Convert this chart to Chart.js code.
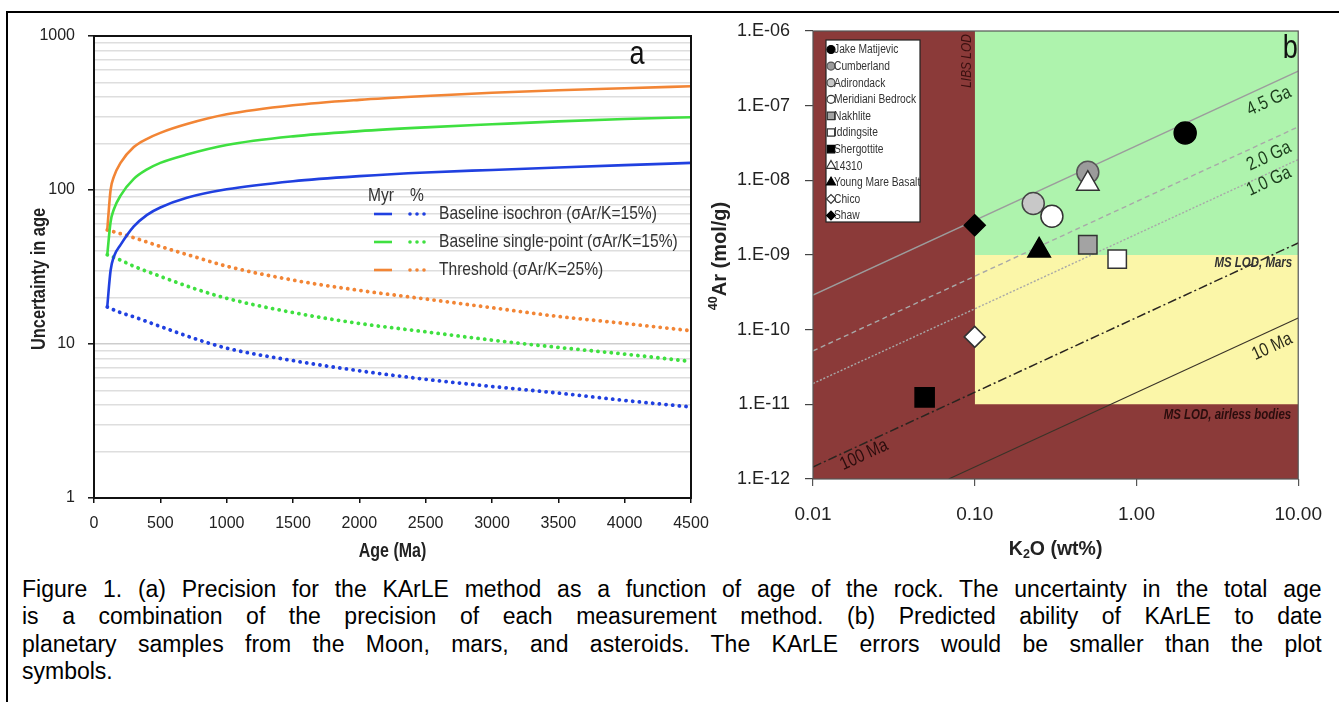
<!DOCTYPE html>
<html>
<head>
<meta charset="utf-8">
<script src="https://cdn.jsdelivr.net/npm/chart.js@4.4.1/dist/chart.umd.min.js"></script>
<style>
  body { margin: 0; width: 1339px; height: 702px; background: #fff; position: relative; overflow: hidden; font-family: 'Liberation Sans', Arial, sans-serif; }
  #frame { position: absolute; left: 6px; top: 11px; width: 1400px; height: 800px; border-left: 2px solid #000; border-top: 2px solid #000; }
  #cA { position: absolute; left: 0; top: 0; }
  #cB { position: absolute; left: 690px; top: 0; }
  #caption { position: absolute; left: 22px; top: 576px; width: 1300px; line-height: 27.3px; color: #000; }
  #caption div { white-space: nowrap; }
</style>
</head>
<body>
<div id="frame"></div>
<canvas id="cA" width="720" height="570"></canvas>
<canvas id="cB" width="649" height="570"></canvas>
<div id="caption"></div>
<script>
// ---------- panel a data ----------
const ageTicks = [0, 500, 1000, 1500, 2000, 2500, 3000, 3500, 4000, 4500];
const uncertaintyMajor = [1, 10, 100, 1000];

const ageMyr = [100, 125, 150, 200, 300, 400, 500, 700, 1000, 1500, 2000, 2500, 3000, 3500, 4000, 4500];
const isochronMyr = [17.5, 30, 37, 44, 58, 69, 77, 89, 101, 114, 123, 130, 135, 140, 145, 150];
const singlePointMyr = [38, 62, 75, 92, 118, 136, 150, 170, 196, 223, 241, 255, 267, 279, 289, 297];
const thresholdMyr = [55, 100, 122, 150, 190, 215, 235, 268, 310, 355, 385, 408, 428, 444, 458, 472];

const agePct = [100, 200, 300, 500, 750, 1000, 1500, 2000, 2500, 3000, 3500, 4000, 4500];
const isochronPct = [17.4, 16, 15, 13, 10.9, 9.4, 7.8, 6.7, 5.9, 5.3, 4.8, 4.3, 3.9];
const singlePointPct = [38, 35, 32, 27.5, 23, 19.8, 16, 13.6, 12, 10.6, 9.5, 8.6, 7.7];
const thresholdPct = [55, 52, 49, 43, 37, 32, 26, 22.3, 19.6, 17.2, 15.1, 13.6, 12.2];

const seriesNames = ['Baseline isochron (σAr/K=15%)', 'Baseline single-point (σAr/K=15%)', 'Threshold (σAr/K=25%)'];

// ---------- panel b data ----------
const k2oTicks = [0.01, 0.1, 1, 10];
const arTicks = [1e-12, 1e-11, 1e-10, 1e-9, 1e-8, 1e-7, 1e-6];

const sampleNames = ['Jake Matijevic', 'Cumberland', 'Adirondack', 'Meridiani Bedrock', 'Nakhlite', 'Iddingsite',
  'Shergottite', '14310', 'Young Mare Basalt', 'Chico', 'Shaw'];
const sampleK2O = [2.0, 0.5, 0.23, 0.3, 0.5, 0.76, 0.049, 0.5, 0.25, 0.1, 0.1];
const sampleAr40 = [4.3e-8, 1.28e-8, 4.9e-9, 3.3e-9, 1.37e-9, 8.8e-10, 1.24e-11, 9.0e-9, 1.15e-9, 8e-11, 2.5e-9];

// isochron end points [K2O, 40Ar]
const iso45Ga = [[0.01, 2.9e-10], [10, 2.9e-7]];
const iso20Ga = [[0.01, 5.2e-11], [10, 5.2e-8]];
const iso10Ga = [[0.01, 1.9e-11], [10, 1.9e-8]];
const iso100Ma = [[0.01, 1.45e-12], [10, 1.45e-9]];
const iso10Ma = [[0.069, 1e-12], [10, 1.43e-10]];

// detection limits
const libsLodK2O = 0.1;
const msLodMars = 1e-9;
const msLodAirless = 1e-11;

const captionLines = [
  'Figure 1. (a) Precision for the KArLE method as a function of age of the rock. The uncertainty in the total age',
  'is a combination of the precision of each measurement method. (b) Predicted ability of KArLE to date',
  'planetary samples from the Moon, mars, and asteroids. The KArLE errors would be smaller than the plot',
  'symbols.'
];

// ---------- fonts ----------
function hasFont(name) {
  const c = document.createElement('canvas').getContext('2d');
  c.font = '40px monospace';
  const a = c.measureText('abcdefghijklmnopqrstuvwxyz0123').width;
  c.font = '40px "' + name + '", monospace';
  const b = c.measureText('abcdefghijklmnopqrstuvwxyz0123').width;
  return a !== b;
}
const NARROW = hasFont('Liberation Sans Narrow');
const RF = "'Liberation Sans', Arial, sans-serif";
const NFAM = NARROW ? "'Liberation Sans Narrow', 'Liberation Sans', sans-serif" : RF;
const NSX = NARROW ? 1 : 0.82;

// narrow looking text: squeeze regular Liberation Sans horizontally when no narrow face exists
function ntext(ctx, t, x, y, size, style, align, rot) {
  ctx.save();
  ctx.translate(x, y);
  if (rot) ctx.rotate(rot);
  ctx.scale(NSX, 1);
  ctx.font = (style || '') + ' ' + size + 'px ' + NFAM;
  ctx.textAlign = align || 'left';
  ctx.textBaseline = 'middle';
  ctx.fillText(t, 0, 0);
  ctx.restore();
}
function rfont(size, style) { return (style || '') + ' ' + size + 'px ' + RF; }

Chart.defaults.font.family = RF;
Chart.defaults.animation = false;

const pair = (xs, ys) => xs.map((x, i) => ({ x: x, y: ys[i] }));
const pts = arr => arr.map(p => ({ x: p[0], y: p[1] }));

// ---------- caption: justify each printed line ----------
(function () {
  const cap = document.getElementById('caption');
  const mc = document.createElement('canvas').getContext('2d');
  mc.font = '20px ' + RF;
  const W = 1300;
  let fs = Math.min.apply(null, captionLines.slice(0, 3).map(t => 20 * (W - 4) / mc.measureText(t).width));
  fs = Math.min(fs, 23);
  cap.style.fontSize = fs.toFixed(2) + 'px';
  mc.font = fs.toFixed(2) + 'px ' + RF;
  captionLines.forEach((t, i) => {
    const d = document.createElement('div');
    d.textContent = t;
    if (i < captionLines.length - 1) {
      const spaces = t.split(' ').length - 1;
      d.style.wordSpacing = ((W - mc.measureText(t).width) / spaces).toFixed(3) + 'px';
    }
    cap.appendChild(d);
  });
})();

// ---------- panel a ----------
const BLUE = '#2040e0', GREEN = '#3fe040', ORANGE = '#f28535';

function solid(label, xs, ys, color) {
  return { label: label, data: pair(xs, ys), borderColor: color, borderWidth: 2.6, pointRadius: 0,
    cubicInterpolationMode: 'monotone', fill: false };
}
function dotted(label, xs, ys, color) {
  return { label: label, data: pair(xs, ys), borderColor: color, borderWidth: 3.8, pointRadius: 0,
    borderDash: [0.1, 6.6], borderCapStyle: 'round', cubicInterpolationMode: 'monotone', fill: false };
}

const gridTicksA = [];
uncertaintyMajor.forEach((m, i) => {
  if (i === uncertaintyMajor.length - 1) { gridTicksA.push(m); return; }
  for (let k = 1; k <= 9; k++) gridTicksA.push(m * k);
});

const panelAPlugin = {
  id: 'panelA',
  afterDraw(chart) {
    const ctx = chart.ctx, a = chart.chartArea;
    ctx.save();
    ctx.strokeStyle = '#111';
    ctx.lineWidth = 2;
    ctx.strokeRect(a.left, a.top, a.right - a.left, a.bottom - a.top);

    // axis titles
    ctx.fillStyle = '#222';
    ntext(ctx, 'Age (Ma)', (a.left + a.right) / 2, 552, 19.5, 'bold', 'center');
    ntext(ctx, 'Uncertainty in age', 39, 279, 20, 'bold', 'center', -Math.PI / 2);

    // panel letter
    ctx.fillStyle = '#111';
    ntext(ctx, 'a', 637, 55, 33, '', 'center');

    // legend
    ctx.fillStyle = '#333';
    ntext(ctx, 'Myr', 381, 196, 19, '', 'center');
    ntext(ctx, '%', 417, 196, 19, '', 'center');
    const rows = [214, 242, 270];
    rows.forEach((y, i) => {
      const ds = chart.data.datasets[i];
      ctx.strokeStyle = ds.borderColor;
      ctx.lineWidth = 2.6;
      ctx.beginPath(); ctx.moveTo(374, y); ctx.lineTo(392, y); ctx.stroke();
      ctx.fillStyle = ds.borderColor;
      [410, 417, 424].forEach(x => { ctx.beginPath(); ctx.arc(x, y, 1.8, 0, Math.PI * 2); ctx.fill(); });
      ctx.fillStyle = '#333';
      ntext(ctx, seriesNames[i], 439, y, 19, '', 'left');
    });
    ctx.restore();
  }
};

new Chart(document.getElementById('cA'), {
  type: 'line',
  data: {
    datasets: [
      solid('Isochron Myr', ageMyr, isochronMyr, BLUE),
      solid('Single-point Myr', ageMyr, singlePointMyr, GREEN),
      solid('Threshold Myr', ageMyr, thresholdMyr, ORANGE),
      dotted('Isochron %', agePct, isochronPct, BLUE),
      dotted('Single-point %', agePct, singlePointPct, GREEN),
      dotted('Threshold %', agePct, thresholdPct, ORANGE)
    ]
  },
  options: {
    responsive: false,
    layout: { padding: { left: 0, top: 36, right: 29, bottom: 0 } },
    plugins: { legend: { display: false }, tooltip: { enabled: false } },
    scales: {
      x: {
        type: 'linear', min: 0, max: 4500,
        afterBuildTicks: s => { s.ticks = ageTicks.map(v => ({ value: v })); },
        afterFit: s => { s.height = 72; },
        border: { display: false },
        grid: { drawOnChartArea: false, tickLength: 5, tickColor: '#111', lineWidth: 1.5 },
        ticks: { callback: v => String(v), font: { size: 16 }, color: '#222', padding: 11, maxRotation: 0, autoSkip: false }
      },
      y: {
        type: 'logarithmic', min: 1, max: 1000,
        afterBuildTicks: s => { s.ticks = gridTicksA.map(v => ({ value: v })); },
        afterFit: s => { s.width = 94; },
        border: { display: false },
        grid: {
          color: c => uncertaintyMajor.includes(c.tick.value) ? '#cdcdcd' : '#dedede',
          lineWidth: 1.6, tickLength: 6, tickWidth: 1.5,
          tickColor: c => uncertaintyMajor.includes(c.tick.value) ? '#111' : 'rgba(0,0,0,0)'
        },
        ticks: {
          callback: v => uncertaintyMajor.includes(v) ? String(v) : '',
          font: { size: 16 }, color: '#222', padding: 13, autoSkip: false
        }
      }
    }
  },
  plugins: [panelAPlugin]
});

// ---------- panel b ----------
const BROWN = '#8b3a39', LGREEN = '#aef3ad', LYELLOW = '#fbf6a8';

const sampleStyles = [
  { s: 'circle', r: 11, fill: '#000', line: '#000' },
  { s: 'circle', r: 11, fill: '#9b9b9b', line: '#555' },
  { s: 'circle', r: 11, fill: '#c8c8c8', line: '#444' },
  { s: 'circle', r: 11, fill: '#fff', line: '#333' },
  { s: 'rect', r: 13, fill: '#a3a3a3', line: '#333' },
  { s: 'rect', r: 13, fill: '#fff', line: '#333' },
  { s: 'rect', r: 13.5, fill: '#000', line: '#000' },
  { s: 'triangle', r: 13, fill: '#fff', line: '#333' },
  { s: 'triangle', r: 13, fill: '#000', line: '#000' },
  { s: 'rectRot', r: 10.5, fill: '#fff', line: '#333' },
  { s: 'rectRot', r: 10.5, fill: '#000', line: '#000' }
];
const legendSizes = { circle: 4, rect: 5.2, triangle: 5.2, rectRot: 4.4 };

function region(x0, x1, yTop, yBottom, color, order) {
  return { type: 'line', data: [{ x: x0, y: yTop }, { x: x1, y: yTop }], fill: { value: yBottom },
    backgroundColor: color, borderColor: 'rgba(0,0,0,0)', borderWidth: 0, pointRadius: 0, showLine: true, order: order };
}
function isoLine(label, arr, color, width, dash) {
  return { type: 'line', label: label, data: pts(arr), borderColor: color, borderWidth: width, borderDash: dash,
    pointRadius: 0, showLine: true, fill: false, order: 5 };
}

const datasetsB = [
  region(0.01, 10, 1e-6, 1e-12, BROWN, 22),
  region(libsLodK2O, 10, 1e-6, msLodMars, LGREEN, 21),
  region(libsLodK2O, 10, msLodMars, msLodAirless, LYELLOW, 20),
  isoLine('4.5 Ga', iso45Ga, '#9c9c9c', 1.4, []),
  isoLine('2.0 Ga', iso20Ga, '#a8a8a8', 1.4, [5, 3.5]),
  isoLine('1.0 Ga', iso10Ga, '#a8a8a8', 1.4, [2, 1.8]),
  isoLine('100 Ma', iso100Ma, '#2a2520', 1.5, [9, 3, 2, 3]),
  isoLine('10 Ma', iso10Ma, '#3a3328', 1.1, [])
];
sampleNames.forEach((name, i) => {
  const st = sampleStyles[i];
  datasetsB.push({
    type: 'scatter', label: name, data: [{ x: sampleK2O[i], y: sampleAr40[i] }],
    pointStyle: st.s, pointRadius: st.r, backgroundColor: st.fill, borderColor: st.line, borderWidth: 1.5,
    order: -i, sample: true
  });
});

function drawRich(ctx, parts, x, y) {
  let total = 0;
  parts.forEach(p => { ctx.font = p.f; total += ctx.measureText(p.t).width; });
  let cx = x - total / 2;
  ctx.textAlign = 'left';
  parts.forEach(p => {
    ctx.font = p.f;
    ctx.fillText(p.t, cx, y + (p.dy || 0));
    cx += ctx.measureText(p.t).width;
  });
}

const panelBPlugin = {
  id: 'panelB',
  afterDraw(chart) {
    const ctx = chart.ctx, a = chart.chartArea;
    const xs = chart.scales.x, ys = chart.scales.y;
    const X = v => xs.getPixelForValue(v), Y = v => ys.getPixelForValue(v);
    ctx.save();
    ctx.strokeStyle = '#555';
    ctx.lineWidth = 1.2;
    ctx.strokeRect(a.left, a.top, a.right - a.left, a.bottom - a.top);

    const ang = Math.atan2(Y(10) - Y(1), X(10) - X(1));
    ctx.fillStyle = '#1b3b1b';
    ntext(ctx, '4.5 Ga', X(6.6), Y(1.15e-7), 19, '', 'center', ang);
    ntext(ctx, '2.0 Ga', X(6.6), Y(2.1e-8), 19, '', 'center', ang);
    ntext(ctx, '1.0 Ga', X(6.6), Y(9.7e-9), 19, '', 'center', ang);
    ctx.fillStyle = '#2a2a1a';
    ntext(ctx, '10 Ma', X(6.9), Y(5.9e-11), 18.5, '', 'center', ang);
    ctx.fillStyle = '#2a0d0d';
    ntext(ctx, '100 Ma', X(0.0207), Y(2.1e-12), 18.5, '', 'center', ang);

    ctx.fillStyle = '#333';
    ntext(ctx, 'MS LOD, Mars', a.right - 6, Y(msLodMars) + 8, 14, 'italic bold', 'right');
    ctx.fillStyle = '#2a0d0d';
    ntext(ctx, 'MS LOD, airless bodies', a.right - 7, Y(msLodAirless) + 11, 14, 'italic bold', 'right');

    ctx.fillStyle = '#3a1010';
    ntext(ctx, 'LIBS LOD', X(libsLodK2O) - 8, a.top + 30, 14.5, 'italic', 'center', -Math.PI / 2);

    // panel letter
    ctx.fillStyle = '#111';
    ntext(ctx, 'b', a.right - 8, a.top + 18, 33, '', 'center');

    // sample legend
    const bx = 136, by = 40, bw = 94, bh = 182;
    ctx.fillStyle = '#fff';
    ctx.fillRect(bx, by, bw, bh);
    ctx.strokeStyle = '#222'; ctx.lineWidth = 1.2;
    ctx.strokeRect(bx, by, bw, bh);
    const samples = chart.data.datasets.filter(d => d.sample);
    samples.forEach((d, i) => {
      const y = by + 9.5 + i * 16.6;
      ctx.fillStyle = d.backgroundColor; ctx.strokeStyle = d.borderColor;
      Chart.helpers.drawPoint(ctx, { pointStyle: d.pointStyle, radius: legendSizes[d.pointStyle], borderWidth: 1.3, rotation: 0 }, bx + 5, y);
      ctx.fillStyle = '#333';
      ntext(ctx, d.label, bx + 8, y + 0.5, 12.5, '', 'left');
    });

    // axis titles
    ctx.fillStyle = '#222';
    ctx.textBaseline = 'middle';
    drawRich(ctx, [
      { t: 'K', f: rfont(19.5, 'bold') },
      { t: '2', f: rfont(12.5, 'bold'), dy: 5 },
      { t: 'O (wt%)', f: rfont(19.5, 'bold') }
    ], (a.left + a.right) / 2, 550);
    ctx.save();
    ctx.translate(30, 256);
    ctx.rotate(-Math.PI / 2);
    drawRich(ctx, [
      { t: '40', f: rfont(12.5, 'bold'), dy: -6 },
      { t: 'Ar (mol/g)', f: rfont(20, 'bold') }
    ], 0, 0);
    ctx.restore();
    ctx.restore();
  }
};

new Chart(document.getElementById('cB'), {
  type: 'scatter',
  data: { datasets: datasetsB },
  options: {
    responsive: false,
    layout: { padding: { left: 0, top: 31, right: 31, bottom: 0 } },
    plugins: { legend: { display: false }, tooltip: { enabled: false } },
    scales: {
      x: {
        type: 'logarithmic', min: 0.01, max: 10,
        afterBuildTicks: s => { s.ticks = k2oTicks.map(v => ({ value: v })); },
        afterFit: s => { s.height = 91; },
        border: { display: false },
        grid: { drawOnChartArea: false, tickLength: 7, tickColor: '#555', lineWidth: 1.2 },
        ticks: { callback: v => v.toFixed(2), font: { size: 19 }, color: '#222', padding: 17, maxRotation: 0, autoSkip: false }
      },
      y: {
        type: 'logarithmic', min: 1e-12, max: 1e-6,
        afterBuildTicks: s => { s.ticks = arTicks.map(v => ({ value: v })); },
        afterFit: s => { s.width = 123; },
        border: { display: false },
        grid: { drawOnChartArea: false, tickLength: 8, tickColor: '#444', lineWidth: 1.2 },
        ticks: {
          callback: v => '1.E-' + String(Math.round(-Math.log10(v))).padStart(2, '0'),
          font: { size: 18 }, color: '#222', padding: 15, autoSkip: false
        }
      }
    }
  },
  plugins: [panelBPlugin]
});
</script>
</body>
</html>
